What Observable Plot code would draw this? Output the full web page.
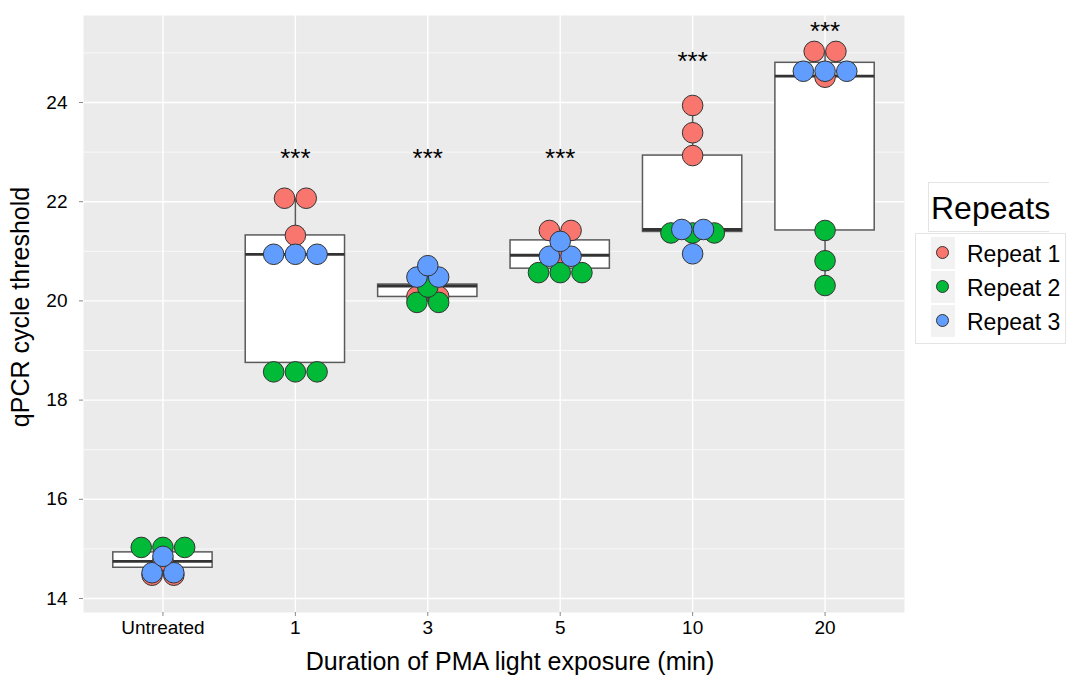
<!DOCTYPE html>
<html>
<head>
<meta charset="utf-8">
<script src="https://cdn.jsdelivr.net/npm/d3@7"></script>
<script src="https://cdn.jsdelivr.net/npm/@observablehq/plot@0.6"></script>
<style>
  html, body { margin: 0; padding: 0; background: #fff; }
  #wrap { position: relative; width: 1076px; height: 677px; font-family: "Liberation Sans", Arial, sans-serif; }
  #chart { position: absolute; left: 0; top: 0; }
  .legend-title { position: absolute; left: 928px; top: 182px; width: 121px; height: 50px;
    border: 1px solid #e4e4e4; border-right: none; font-size: 32px; line-height: 50px; padding-left: 2px; box-sizing: border-box; color: #000; }
  .legend-box { position: absolute; left: 915px; top: 233px; width: 151px; height: 111px;
    border: 1px solid #e4e4e4; box-sizing: border-box; }
  .legend-key { position: absolute; left: 15px; width: 24px; height: 32px; background: #f2f2f2; }
  .legend-key span { position: absolute; left: 5px; top: 9px; width: 13px; height: 13px; border-radius: 50%;
    border: 1px solid #333; box-sizing: border-box; }
  .legend-label { position: absolute; left: 51px; font-size: 23px; line-height: 32px; color: #000; white-space: nowrap; }
</style>
</head>
<body>
<div id="wrap"></div>
<script>
// Categories on the x axis (duration of PMA light exposure)
const categories = ["Untreated", "1", "3", "5", "10", "20"];
const repeats = ["Repeat 1", "Repeat 2", "Repeat 3"];
const repeatColors = ["#F8766D", "#00BA38", "#619CFF"];

// qPCR cycle thresholds, three technical replicates per repeat and category
const repeat1 = [[14.47, 14.47, 14.77], [22.07, 22.07, 21.32], [20.09, 20.09, 20.35],
                 [21.42, 21.42, 20.90], [23.94, 23.39, 22.93], [25.03, 25.03, 24.51]];
const repeat2 = [[15.03, 15.03, 15.03], [18.57, 18.57, 18.57], [19.97, 19.97, 20.28],
                 [20.57, 20.57, 20.57], [21.37, 21.37, 21.37], [21.42, 20.81, 20.31]];
const repeat3 = [[14.52, 14.52, 14.85], [20.94, 20.94, 20.94], [20.48, 20.48, 20.71],
                 [20.90, 20.90, 21.20], [21.44, 21.44, 20.95], [24.63, 24.63, 24.63]];

// Box-plot summaries per category
const whiskerLow  = [14.48, 18.57, 19.97, 20.57, 20.95, 20.31];
const lowerHinge  = [14.62, 18.75, 20.08, 20.65, 21.39, 21.42];
const medianValue = [14.75, 20.94, 20.30, 20.92, 21.44, 24.53];
const upperHinge  = [14.93, 21.32, 20.33, 21.22, 22.93, 24.80];
const whiskerHigh = [15.03, 22.07, 20.71, 21.42, 23.94, 25.03];

// Significance annotations
const starCategories = ["1", "3", "5", "10", "20"];
const starLabels = ["***", "***", "***", "***", "***"];
const starY = [22.86, 22.86, 22.86, 24.82, 25.43];

const majorTicks = [14, 16, 18, 20, 22, 24];
const minorTicks = [15, 17, 19, 21, 23, 25];

const boxWidth = 0.75;   // in category units
const dotStep = 0.164;   // horizontal spacing of stacked dots, in category units

// Stack replicate dots with identical values side by side, centred on the category
const dots = [];
[repeat1, repeat2, repeat3].forEach((series, r) => {
  series.forEach((vals, c) => {
    const counts = d3.rollup(vals, v => v.length, v => v);
    const seen = new Map();
    vals.forEach(v => {
      const n = counts.get(v);
      const i = seen.get(v) ?? 0;
      seen.set(v, i + 1);
      dots.push({repeat: repeats[r], cat: c, value: v, slot: i - (n - 1) / 2});
    });
  });
});

const boxes = categories.map((name, i) => ({
  i, lo: whiskerLow[i], q1: lowerHinge[i], med: medianValue[i], q3: upperHinge[i], hi: whiskerHigh[i]
}));

const stars = starCategories.map((c, k) => ({i: categories.indexOf(c), y: starY[k], label: starLabels[k]}));

const chart = Plot.plot({
  width: 912,
  height: 677,
  marginLeft: 83,
  marginRight: 8,
  marginTop: 15,
  marginBottom: 65,
  style: {fontFamily: "'Liberation Sans', Arial, sans-serif", background: "transparent", color: "#000"},
  x: {type: "linear", domain: [-0.6, 5.6]},
  y: {domain: [13.718, 25.754]},
  color: {domain: repeats, range: repeatColors},
  marks: [
    Plot.frame({fill: "#EBEBEB", stroke: "none"}),
    Plot.ruleY(minorTicks, {stroke: "white", strokeWidth: 0.7}),
    Plot.ruleY(majorTicks, {stroke: "white", strokeWidth: 1.4}),
    Plot.ruleX(d3.range(categories.length), {stroke: "white", strokeWidth: 1.4}),
    Plot.axisY({ticks: majorTicks, tickSize: 4, tickPadding: 12, fontSize: 19, stroke: "#888", label: null}),
    Plot.axisX({ticks: d3.range(categories.length), tickFormat: i => categories[i], tickSize: 4,
                tickPadding: 4, fontSize: 19, stroke: "#888", label: null}),
    // whiskers
    Plot.ruleX(boxes, {x: "i", y1: "lo", y2: "q1", stroke: "#5a5a5a", strokeWidth: 1.5}),
    Plot.ruleX(boxes, {x: "i", y1: "q3", y2: "hi", stroke: "#5a5a5a", strokeWidth: 1.5}),
    // boxes and medians
    Plot.rect(boxes, {x1: d => d.i - boxWidth / 2, x2: d => d.i + boxWidth / 2, y1: "q1", y2: "q3",
                      fill: "white", stroke: "#5a5a5a", strokeWidth: 1.5}),
    Plot.ruleY(boxes, {y: "med", x1: d => d.i - boxWidth / 2, x2: d => d.i + boxWidth / 2,
                       stroke: "#333", strokeWidth: 2.8}),
    // replicate dots
    Plot.dot(dots, {x: d => d.cat + d.slot * dotStep, y: "value", fill: "repeat", r: 10.3,
                    stroke: "#333", strokeWidth: 1}),
    // significance stars
    Plot.text(stars, {x: "i", y: "y", text: "label", fontSize: 26, fill: "#000"}),
    // axis titles
    Plot.text(["qPCR cycle threshold"], {frameAnchor: "left", textAnchor: "middle", lineAnchor: "middle",
                                          rotate: -90, dx: -63, dy: -7, fontSize: 25, fill: "#000"}),
    Plot.text(["Duration of PMA light exposure (min)"], {frameAnchor: "bottom", textAnchor: "middle",
                                                         lineAnchor: "middle", dx: 16, dy: 49,
                                                         fontSize: 25, fill: "#000"})
  ]
});
chart.id = "chart";

const wrap = document.getElementById("wrap");
wrap.appendChild(chart);

// Legend built from the chart's colour scale
const color = chart.scale("color");
const title = document.createElement("div");
title.className = "legend-title";
title.textContent = "Repeats";
wrap.appendChild(title);

const box = document.createElement("div");
box.className = "legend-box";
const keyTops = [3, 37, 71];
color.domain.forEach((name, k) => {
  const key = document.createElement("div");
  key.className = "legend-key";
  key.style.top = keyTops[k] + "px";
  const sw = document.createElement("span");
  sw.style.background = color.range[k];
  key.appendChild(sw);
  box.appendChild(key);
  const lab = document.createElement("div");
  lab.className = "legend-label";
  lab.style.top = (keyTops[k] + 1) + "px";
  lab.textContent = name;
  box.appendChild(lab);
});
wrap.appendChild(box);
</script>
</body>
</html>
